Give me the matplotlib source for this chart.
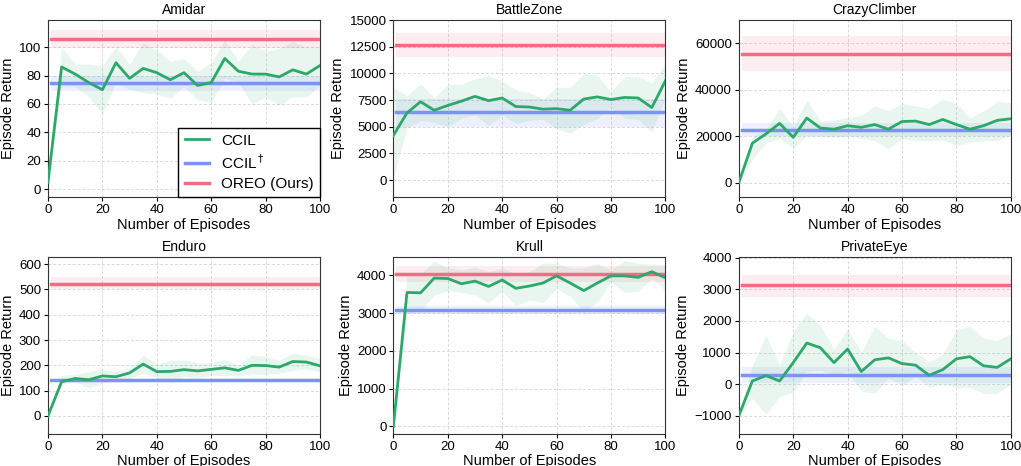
import numpy as np
import matplotlib
matplotlib.use("Agg")
import matplotlib.pyplot as plt

plt.rcParams['font.family'] = ['Liberation Sans', 'DejaVu Sans']

episodes = np.arange(0, 101, 5)

games = ["Amidar", "BattleZone", "CrazyClimber", "Enduro", "Krull", "PrivateEye"]

# CCIL mean, upper, lower
ccil_mean = {
    "Amidar": [5, 86, 81, 75, 70, 89, 78, 85, 82, 77, 82, 73, 75, 92, 83, 81, 81, 79, 84, 81, 87],
    "BattleZone": [4200, 6300, 7350, 6550, 7000, 7400, 7850, 7450, 7700, 6900, 6850, 6650, 6700, 6550, 7600, 7800, 7550, 7750, 7700, 6800, 9300],
    "CrazyClimber": [0, 17000, 21000, 25500, 19500, 27800, 23500, 23000, 24500, 23800, 25000, 23000, 26300, 26500, 25000, 27200, 25000, 23000, 24500, 26800, 27500],
    "Enduro": [0, 135, 148, 143, 158, 155, 170, 205, 175, 176, 183, 178, 184, 190, 180, 200, 199, 193, 215, 213, 198],
    "Krull": [0, 3550, 3540, 3930, 3920, 3780, 3850, 3710, 3880, 3660, 3720, 3800, 3990, 3800, 3600, 3800, 3990, 3990, 3950, 4100, 3940],
    "PrivateEye": [-1000, 100, 270, 100, 680, 1300, 1150, 680, 1110, 400, 770, 830, 650, 600, 280, 460, 800, 870, 580, 530, 800],
}
ccil_upper = {
    "Amidar": [5, 100, 88, 88, 87, 100, 88, 103, 98, 90, 92, 83, 89, 105, 90, 102, 97, 99, 104, 100, 100],
    "BattleZone": [8700, 7900, 9050, 7700, 9000, 9000, 9500, 9800, 9300, 8500, 8200, 7600, 8700, 8700, 10000, 9800, 8300, 9700, 9700, 9100, 10900],
    "CrazyClimber": [0, 20000, 23000, 32000, 24000, 35500, 26500, 27000, 28000, 29000, 33000, 31000, 34000, 33000, 32000, 36000, 34000, 28000, 31000, 35000, 34500],
    "Enduro": [0, 160, 165, 175, 185, 175, 190, 240, 205, 220, 220, 210, 210, 225, 200, 242, 235, 220, 248, 240, 225],
    "Krull": [0, 4000, 4050, 4380, 4200, 4150, 4220, 4100, 4200, 4050, 4100, 4330, 4330, 4200, 4200, 4320, 4150, 4400, 4320, 4300, 4290],
    "PrivateEye": [-1000, 600, 1550, 600, 1650, 2250, 1850, 1100, 1750, 1000, 1830, 1450, 1380, 1000, 700, 950, 1730, 1820, 1450, 1380, 1600],
}
ccil_lower = {
    "Amidar": [5, 72, 72, 65, 53, 75, 70, 68, 67, 64, 72, 63, 61, 78, 75, 60, 65, 59, 65, 65, 73],
    "BattleZone": [200, 4900, 5600, 5400, 5000, 5800, 6100, 5100, 6100, 5300, 5600, 5700, 4800, 4400, 5200, 5800, 6800, 5800, 5700, 4500, 7700],
    "CrazyClimber": [0, 10000, 17000, 19000, 15000, 20000, 20000, 19500, 20000, 19000, 18000, 14500, 19000, 18000, 18000, 18500, 16000, 17500, 18000, 18000, 20500],
    "Enduro": [0, 125, 135, 110, 130, 140, 148, 170, 150, 130, 155, 150, 160, 160, 160, 165, 165, 168, 180, 185, 175],
    "Krull": [0, 3000, 3050, 3480, 3600, 3550, 3480, 3280, 3580, 3200, 3350, 3280, 3650, 3450, 3020, 3300, 3830, 3550, 3580, 3920, 3600],
    "PrivateEye": [-1000, -450, -950, -400, -250, 400, 450, 300, 400, -220, -280, 200, -50, 250, -100, 0, -100, -100, -300, -300, 0],
}

# constant baselines: (mean, low, high)
ccil_dagger = {
    "Amidar": (75, 69, 80),
    "BattleZone": (6350, 5000, 7600),
    "CrazyClimber": (22700, 20000, 25700),
    "Enduro": (143, 139, 147),
    "Krull": (3080, 2970, 3200),
    "PrivateEye": (300, 50, 550),
}
oreo = {
    "Amidar": (105.5, 99, 112),
    "BattleZone": (12700, 11500, 13800),
    "CrazyClimber": (55500, 48000, 63000),
    "Enduro": (522, 500, 548),
    "Krull": (4040, 3830, 4250),
    "PrivateEye": (3120, 2770, 3460),
}

ylims = {
    "Amidar": (-5.6, 119),
    "BattleZone": (-1600, 15000),
    "CrazyClimber": (-6300, 70000),
    "Enduro": (-71, 630),
    "Krull": (-200, 4500),
    "PrivateEye": (-1570, 4030),
}
yticks = {
    "Amidar": np.arange(0, 101, 20),
    "BattleZone": np.arange(0, 15001, 2500),
    "CrazyClimber": np.arange(0, 60001, 20000),
    "Enduro": np.arange(0, 601, 100),
    "Krull": np.arange(0, 4001, 1000),
    "PrivateEye": np.arange(-1000, 4001, 1000),
}

green = "#2ca86a"
blue = "#7b93f3"
red = "#f46b85"

fig, axes = plt.subplots(2, 3, figsize=(10.21, 4.66), dpi=100)
plt.subplots_adjust(left=0.047, right=0.99, top=0.957, bottom=0.069, wspace=0.27, hspace=0.335)

flat_x = np.array([1, 100])
for ax, g in zip(axes.flat, games):
    m, lo, hi = oreo[g]
    ax.fill_between(flat_x, lo, hi, color=red, alpha=0.12, linewidth=0)
    ax.plot(flat_x, [m, m], color=red, lw=2.5, label="OREO (Ours)", zorder=3)
    m, lo, hi = ccil_dagger[g]
    ax.fill_between(flat_x, lo, hi, color=blue, alpha=0.12, linewidth=0)
    ax.plot(flat_x, [m, m], color=blue, lw=2.5, label=r"CCIL$^\dagger$", zorder=3)
    ax.fill_between(episodes, ccil_lower[g], ccil_upper[g], color=green, alpha=0.1, linewidth=0)
    ax.plot(episodes, ccil_mean[g], color=green, lw=2, label="CCIL", zorder=4)

    ax.set_xlim(0, 100)
    ax.set_ylim(*ylims[g])
    ax.set_xticks(np.arange(0, 101, 20))
    ax.set_yticks(yticks[g])
    ax.grid(True, linestyle=(0, (3, 2)), color="#d9d9d9", linewidth=0.7)
    ax.set_axisbelow(True)
    for s in ax.spines.values():
        s.set_color("#333333")
    ax.set_title(g, fontsize=10, pad=4)
    ax.set_xlabel("Number of Episodes", fontsize=10.5, labelpad=1)
    ax.set_ylabel("Episode Return", fontsize=10.5, labelpad=3)
    ax.tick_params(labelsize=9.5, length=3, pad=2)

h, l = axes[0, 0].get_legend_handles_labels()
order = [2, 1, 0]
axes[0, 0].legend([h[i] for i in order], [l[i] for i in order], loc="lower right",
                  fontsize=11, fancybox=False, edgecolor="black", framealpha=1,
                  borderaxespad=0, handlelength=1.6, labelspacing=0.35)

fig.savefig("out.png", dpi=100)
